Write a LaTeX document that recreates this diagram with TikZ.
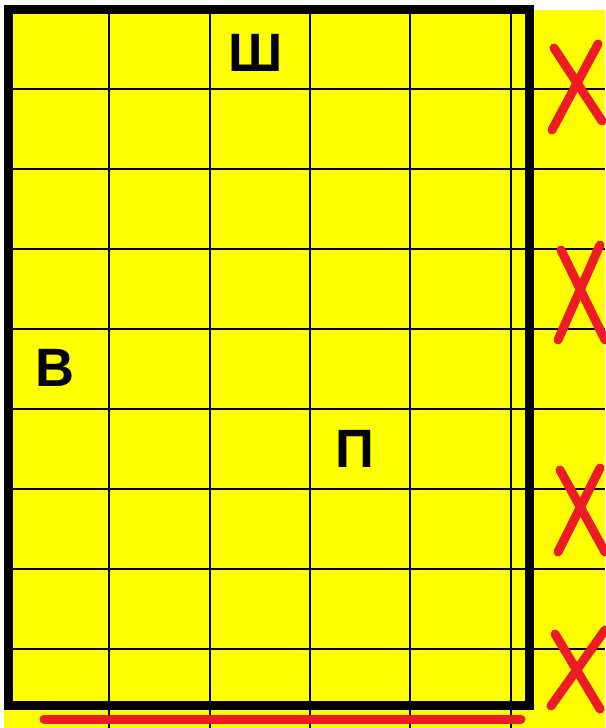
\documentclass[tikz,border=0pt]{standalone}
\usepackage{fontspec}
\setmainfont{Liberation Sans}
\definecolor{boardyellow}{HTML}{FFFF00}
\definecolor{markred}{HTML}{ED1C24}

\begin{document}
\begin{tikzpicture}[
  x=1pt, y=-1pt,
  gridline/.style={black, line width=1.4pt},
  frame/.style={black, line width=9pt},
  cross/.style={markred, line width=9pt, line cap=round},
  letter/.style={font=\fontsize{54}{54}\selectfont\bfseries, inner sep=0pt}
]
\useasboundingbox (0,0) rectangle (605,728);
\fill[boardyellow] (4,10) rectangle (605,728);

% grid
\foreach \y in {89,169,249,329,409,489,569,649}
  \draw[gridline] (13,\y) -- (605,\y);
\foreach \x in {109,210,310,410,511}
  \draw[gridline] (\x,14) -- (\x,728);
\draw[frame] (8.5,9.5) rectangle (529.5,705.5);

% letters
\node[letter] (sha) at (256,53) {Ш};
\node[letter] (ve) at (55,368) {В};
\node[letter] (pe) at (355,449) {П};

% crosses
\draw[cross] (552,130) -- (598,44);
\draw[cross] (554,48) -- (602,121);
\draw[cross] (558,340) -- (600,245);
\draw[cross] (561,250) -- (605,340);
\draw[cross] (558,552) -- (600,468);
\draw[cross] (560,470) -- (605,552);
\draw[cross] (551,706) -- (605,630);
\draw[cross] (555,634) -- (600,709);

% bottom mark
\draw[cross] (44,719) -- (521,719);
\end{tikzpicture}
\end{document}
